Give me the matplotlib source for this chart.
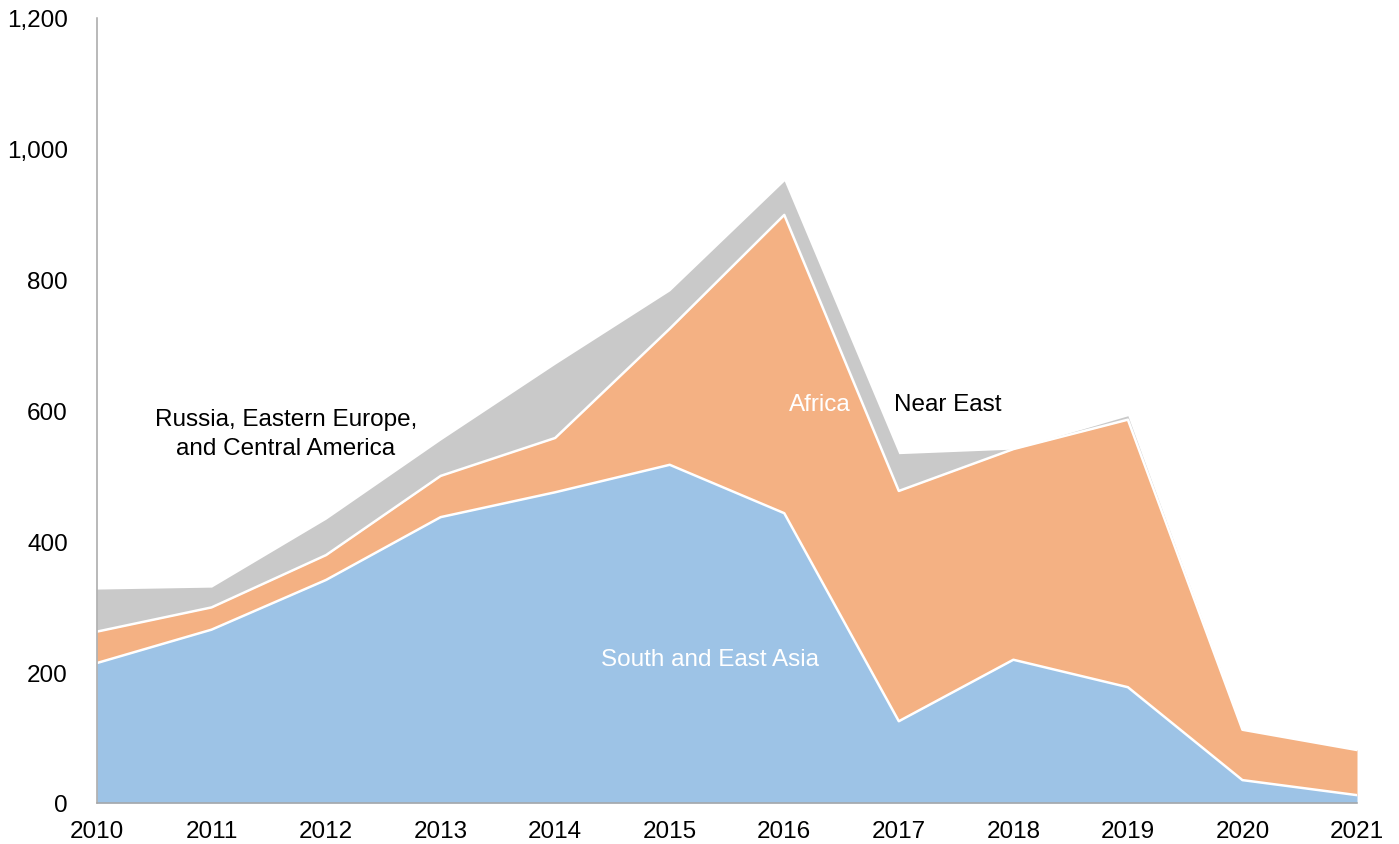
import numpy as np
import matplotlib
matplotlib.use('Agg')
import matplotlib.pyplot as plt
from matplotlib.ticker import FuncFormatter

years = [2010, 2011, 2012, 2013, 2014, 2015, 2016, 2017, 2018, 2019, 2020, 2021]
south_east_asia = [214, 265, 341, 437, 475, 517, 443, 125, 219, 177, 35, 12]
africa = [48, 34, 38, 63, 83, 208, 456, 352, 322, 409, 77, 69]
near_east = [65, 31, 55, 55, 113, 58, 52, 57, 0, 6, 0, 0]

plt.rcParams['font.family'] = ['Liberation Sans', 'DejaVu Sans']
FS = 17.5

fig = plt.figure(figsize=(13.99, 8.45), dpi=100)
ax = fig.add_axes([97 / 1399, 1 - 804 / 845, (1357 - 97) / 1399, (804 - 19) / 845])

x = np.array(years)
b = np.array(south_east_asia)
o = b + np.array(africa)
g = o + np.array(near_east)

ax.fill_between(x, 0, b, color='#9DC3E6', lw=0)
ax.fill_between(x, b, o, color='#F4B183', lw=0)
ax.fill_between(x, o, g, color='#C9C9C9', lw=0)
ax.plot(x, b, color='white', lw=1.8)
ax.plot(x, o, color='white', lw=1.8)

ax.set_xlim(2010, 2021)
ax.set_ylim(0, 1200)
ax.set_xticks(years)
ax.set_yticks(range(0, 1201, 200))
ax.yaxis.set_major_formatter(FuncFormatter(lambda v, p: f'{int(v):,}'))
ax.tick_params(axis='y', length=0, labelsize=FS, pad=21)
ax.tick_params(axis='x', length=0, labelsize=FS, pad=12)
for s in ['top', 'right']:
    ax.spines[s].set_visible(False)
for s in ['left', 'bottom']:
    ax.spines[s].set_color('#A6A6A6')
    ax.spines[s].set_linewidth(1.1)

ax.text(2011.65, 565, 'Russia, Eastern Europe,\nand Central America', ha='center', va='center',
        fontsize=FS, color='black', linespacing=1.4)
ax.text(2016.31, 610, 'Africa', ha='center', va='center', fontsize=FS, color='white')
ax.text(2017.43, 610, 'Near East', ha='center', va='center', fontsize=FS, color='black')
ax.text(2015.35, 220, 'South and East Asia', ha='center', va='center', fontsize=FS, color='white')

fig.savefig('out.png', dpi=100)
